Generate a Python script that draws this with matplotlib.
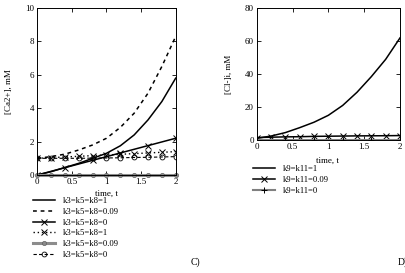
import numpy as np
import matplotlib
matplotlib.use("Agg")
import matplotlib.pyplot as plt
from matplotlib.legend_handler import HandlerLine2D

plt.rcParams['font.family'] = ['Liberation Serif', 'DejaVu Serif']

# time grid shared by all curves
t = [0, 0.2, 0.4, 0.6, 0.8, 1.0, 1.2, 1.4, 1.6, 1.8, 2.0]

# [Ca2+] panel (C)
ca_k1 = [0.0, 0.2, 0.45, 0.7, 1.0, 1.3, 1.75, 2.4, 3.3, 4.4, 5.8]
ca_k009 = [1.0, 1.1, 1.25, 1.5, 1.8, 2.2, 2.85, 3.7, 4.9, 6.5, 8.3]
ca_k0 = [0.0, 0.22, 0.44, 0.66, 0.88, 1.1, 1.32, 1.54, 1.76, 1.98, 2.2]
ca_b_k1 = [1.0, 1.04, 1.08, 1.12, 1.16, 1.2, 1.24, 1.28, 1.32, 1.36, 1.4]
ca_b_k009 = [0.0] * 11
ca_b_k0 = [1.0, 1.0, 1.0, 1.0, 1.01, 1.02, 1.03, 1.05, 1.06, 1.08, 1.1]
ca_labels = ["k3=k5=k8=1", "k3=k5=k8=0.09", "k3=k5=k8=0",
             "k3=k5=k8=1", "k3=k5=k8=0.09", "k3=k5=k8=0"]

# [Cl-]i panel (D)
cl_k1 = [1.0, 2.4, 4.5, 7.5, 10.8, 15.0, 21.0, 29.0, 38.5, 49.0, 62.0]
cl_k009 = [1.5, 1.7, 1.9, 2.0, 2.2, 2.3, 2.4, 2.5, 2.55, 2.6, 2.7]
cl_k0 = [0.2] * 11
cl_labels = ["k9=k11=1", "k9=k11=0.09", "k9=k11=0"]

W, H = 405, 273
fig = plt.figure(figsize=(W / 100, H / 100), dpi=100)

def px_axes(x0, y0, x1, y1):
    return fig.add_axes([x0 / W, 1 - y1 / H, (x1 - x0) / W, (y1 - y0) / H])

def style(ax):
    ax.tick_params(direction='in', top=True, right=True, length=3,
                   width=0.6, labelsize=6.5, pad=2)
    for s in ax.spines.values():
        s.set_linewidth(0.7)

ax1 = px_axes(37.3, 8, 175.7, 175)
ax1.plot(t, ca_k1, '-', color='k', lw=1.1, label=ca_labels[0])
ax1.plot(t, ca_k009, linestyle=(0, (2.5, 2.5)), color='k', lw=1.1, label=ca_labels[1])
ax1.plot(t, ca_k0, '-', color='k', lw=1.1, marker='x', ms=4, mew=0.7,
         markevery=2, label=ca_labels[2])
ax1.plot(t, ca_b_k1, linestyle=(0, (1, 2)), color='k', lw=1.0, marker='x', ms=4,
         mew=0.7, label=ca_labels[3])
ax1.plot(t, ca_b_k009, '-', color='0.55', lw=2.2, marker='o', ms=3, mfc='none',
         mec='0.4', mew=0.6, label=ca_labels[4], clip_on=False)
ax1.plot(t, ca_b_k0, linestyle=(0, (3, 2)), color='k', lw=0.8, marker='o', ms=3.5,
         mfc='none', mew=0.6, label=ca_labels[5])
ax1.set_xlim(0, 2)
ax1.set_ylim(0, 10)
ax1.set_xticks([0, 0.5, 1, 1.5, 2])
ax1.set_xticklabels(["0", "0.5", "1", "1.5", "2"])
ax1.set_yticks([0, 2, 4, 6, 8, 10])
ax1.set_ylabel("[Ca2+], mM", fontsize=6.5, labelpad=9)
style(ax1)
fig.text(106.7 / W, 1 - 194 / H, "time, t", fontsize=6.5, ha='center', va='center')

h1, l1 = ax1.get_legend_handles_labels()
fig.legend(h1, l1, loc='upper left', bbox_to_anchor=(33 / W, 1 - 197 / H),
           frameon=False, fontsize=6.2, handlelength=2.6, handletextpad=0.9,
           labelspacing=0.32, borderpad=0, borderaxespad=0,
           handler_map={h1[4]: HandlerLine2D(numpoints=1),
                        h1[5]: HandlerLine2D(numpoints=1)})
fig.text(195 / W, 1 - 262 / H, "C)", fontsize=7, ha='center', va='center')

ax2 = px_axes(256.7, 8.3, 400, 140)
ax2.plot(t, cl_k1, '-', color='k', lw=1.1, label=cl_labels[0])
ax2.plot(t, cl_k009, '-', color='k', lw=1.1, marker='x', ms=4, mew=0.7,
         label=cl_labels[1])
ax2.plot(t, cl_k0, '-', color='0.5', lw=1.5, marker='+', ms=4, mew=0.7,
         mec='k', markevery=2, label=cl_labels[2])
ax2.set_xlim(0, 2)
ax2.set_ylim(0, 80)
ax2.set_xticks([0, 0.5, 1, 1.5, 2])
ax2.set_xticklabels(["0", "0.5", "1", "1.5", "2"])
ax2.set_yticks([0, 20, 40, 60, 80])
ax2.set_ylabel("[Cl-]i, mM", fontsize=6.5, labelpad=9)
style(ax2)
fig.text(327 / W, 1 - 161 / H, "time, t", fontsize=6.5, ha='center', va='center')

h2, l2 = ax2.get_legend_handles_labels()
fig.legend(h2, l2, loc='upper left', bbox_to_anchor=(253 / W, 1 - 164.5 / H),
           frameon=False, fontsize=6.2, handlelength=2.6, handletextpad=0.9,
           labelspacing=0.35, borderpad=0, borderaxespad=0)
fig.text(398 / W, 1 - 262 / H, "D)", fontsize=7, ha='left', va='center')

fig.savefig("out.png", dpi=100)
